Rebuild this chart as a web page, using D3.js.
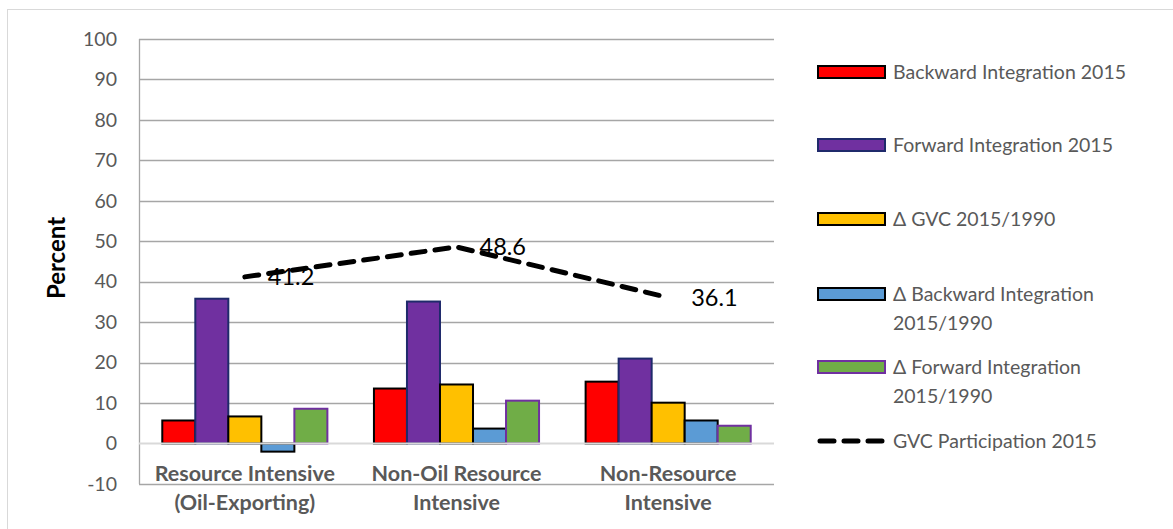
<!DOCTYPE html>
<html>
<head>
<meta charset="utf-8">
<script src="https://cdn.jsdelivr.net/npm/d3@7"></script>
<style>
  html, body { margin: 0; padding: 0; background: #fff; }
  svg { display: block; font-family: Lato, "Open Sans", sans-serif; }
</style>
</head>
<body>
<svg id="chart" width="1173" height="529"></svg>
<script>
// Regional groups
const categories = [
  "Resource Intensive (Oil-Exporting)",
  "Non-Oil Resource Intensive",
  "Non-Resource Intensive"
];

// Bar series (percent)
const barSeries = [
  "Backward Integration 2015",
  "Forward Integration 2015",
  "Δ GVC 2015/1990",
  "Δ Backward Integration 2015/1990",
  "Δ Forward Integration 2015/1990"
];
const backward2015 = [5.7, 13.6, 15.3];
const forward2015 = [35.8, 35.1, 21.0];
const deltaGVC = [6.7, 14.6, 10.1];
const deltaBackward = [-2.0, 3.7, 5.7];
const deltaForward = [8.6, 10.6, 4.4];

// Line series (percent)
const lineSeries = "GVC Participation 2015";
const gvcParticipation = [41.2, 48.6, 36.1];

const yTicks = [-10, 0, 10, 20, 30, 40, 50, 60, 70, 80, 90, 100];
const yTitle = "Percent";

const barValues = [backward2015, forward2015, deltaGVC, deltaBackward, deltaForward];
const fills = ["#ff0000", "#7030a0", "#ffc000", "#5b9bd5", "#70ad47"];
const strokes = ["#000000", "#1f2a6b", "#000000", "#000000", "#7030a0"];

const svg = d3.select("#chart");
const textGray = "#595959";

// outer chart frame
svg.append("rect")
  .attr("x", 7.5).attr("y", 9.5)
  .attr("width", 1200).attr("height", 560)
  .attr("fill", "#fff").attr("stroke", "#d9d9d9").attr("stroke-width", 1);

const plot = { left: 139, right: 774, top: 39, bottom: 484 };

const x = d3.scaleBand().domain(categories).range([plot.left, plot.right]).paddingInner(0).paddingOuter(0);
const y = d3.scaleLinear().domain([-10, 100]).range([plot.bottom, plot.top]);

const barW = x.bandwidth() * 0.156;
const groupW = barW * barSeries.length;
const xs = d3.scaleBand().domain(d3.range(barSeries.length)).range([0, groupW]).padding(0);

// gridlines
svg.append("g")
  .selectAll("line")
  .data(yTicks.filter(t => t !== 0 && t !== -10))
  .join("line")
  .attr("x1", plot.left).attr("x2", plot.right)
  .attr("y1", d => Math.round(y(d)) + 0.5).attr("y2", d => Math.round(y(d)) + 0.5)
  .attr("stroke", "#a6a6a6").attr("stroke-width", 1.3);

// y axis
const yAxis = d3.axisLeft(y).tickValues(yTicks).tickSize(0).tickPadding(22)
  .tickFormat(d => String(d));
const gy = svg.append("g").attr("transform", `translate(${plot.left},0)`).call(yAxis);
gy.select(".domain").remove();
gy.selectAll("text")
  .attr("fill", textGray)
  .style("font-size", "19.5px")
  .style("font-family", "Lato, sans-serif");

// plot frame: left and bottom edges
svg.append("line")
  .attr("x1", plot.left + 0.5).attr("x2", plot.left + 0.5)
  .attr("y1", plot.top).attr("y2", plot.bottom)
  .attr("stroke", "#a6a6a6").attr("stroke-width", 1.3);
svg.append("line")
  .attr("x1", plot.left).attr("x2", plot.right)
  .attr("y1", plot.bottom + 0.5).attr("y2", plot.bottom + 0.5)
  .attr("stroke", "#a6a6a6").attr("stroke-width", 1.3);

// bars
const groups = svg.append("g").selectAll("g")
  .data(categories)
  .join("g")
  .attr("transform", d => `translate(${x(d) + (x.bandwidth() - groupW) / 2},0)`);

groups.selectAll("rect")
  .data((c, ci) => barValues.map((vals, si) => ({ si, v: vals[ci] })))
  .join("rect")
  .attr("x", d => xs(d.si))
  .attr("width", xs.bandwidth())
  .attr("y", d => y(Math.max(0, d.v)))
  .attr("height", d => Math.abs(y(d.v) - y(0)))
  .attr("fill", d => fills[d.si])
  .attr("stroke", d => strokes[d.si])
  .attr("stroke-width", 2);

// zero line
svg.append("line")
  .attr("x1", plot.left).attr("x2", plot.right)
  .attr("y1", y(0)).attr("y2", y(0))
  .attr("stroke", "#d9d9d9").attr("stroke-width", 2);

// participation line
const cx = c => x(c) + x.bandwidth() / 2;
const line = d3.line().x((d, i) => cx(categories[i])).y(d => y(d));
svg.append("path")
  .datum(gvcParticipation)
  .attr("d", line)
  .attr("fill", "none")
  .attr("stroke", "#000")
  .attr("stroke-width", 5)
  .attr("stroke-dasharray", "14 10")
  .attr("stroke-linecap", "round");

svg.append("g").selectAll("text")
  .data(gvcParticipation)
  .join("text")
  .attr("x", (d, i) => cx(categories[i]) + 23)
  .attr("y", d => y(d))
  .attr("dy", "0.36em")
  .attr("fill", "#000")
  .style("font-size", "23.5px")
  .text(d => d.toFixed(1));

// wrap a text element into tspans no wider than `width`
function wrap(textSel, width, lineHeight) {
  textSel.each(function () {
    const t = d3.select(this);
    const words = t.text().split(/\s+/);
    const xPos = t.attr("x");
    t.text(null);
    let lineWords = [];
    let tspan = t.append("tspan").attr("x", xPos);
    for (const w of words) {
      lineWords.push(w);
      tspan.text(lineWords.join(" "));
      if (tspan.node().getComputedTextLength() > width && lineWords.length > 1) {
        lineWords.pop();
        tspan.text(lineWords.join(" "));
        lineWords = [w];
        tspan = t.append("tspan").attr("x", xPos).attr("dy", lineHeight).text(w);
      }
    }
  });
}

// category labels
svg.append("g").selectAll("text")
  .data(categories)
  .join("text")
  .attr("x", d => cx(d))
  .attr("y", 481)
  .attr("text-anchor", "middle")
  .attr("fill", textGray)
  .style("font-size", "21.5px")
  .style("font-weight", "bold")
  .text(d => d)
  .call(wrap, x.bandwidth() - 8, 29);

// y axis title
svg.append("text")
  .attr("transform", "translate(65,258) rotate(-90)")
  .attr("text-anchor", "middle")
  .attr("fill", "#000")
  .style("font-size", "24px")
  .style("font-weight", "bold")
  .text(yTitle);

// legend
const legendItems = barSeries.map((name, i) => ({ name, type: "bar", i }))
  .concat([{ name: lineSeries, type: "line" }]);
const legendY = [72, 145, 219, 294, 367, 441];
const lg = svg.append("g").selectAll("g")
  .data(legendItems)
  .join("g")
  .attr("transform", (d, i) => `translate(818,${legendY[i]})`);

lg.filter(d => d.type === "bar").append("rect")
  .attr("x", 0).attr("y", -6)
  .attr("width", 67).attr("height", 12)
  .attr("fill", d => fills[d.i])
  .attr("stroke", d => strokes[d.i])
  .attr("stroke-width", 2);

lg.filter(d => d.type === "line").append("line")
  .attr("x1", 2).attr("x2", 64)
  .attr("y1", 0).attr("y2", 0)
  .attr("stroke", "#000")
  .attr("stroke-width", 5)
  .attr("stroke-dasharray", "14 10")
  .attr("stroke-linecap", "round");

lg.append("text")
  .attr("x", 75)
  .attr("y", 0)
  .attr("dy", "0.36em")
  .attr("fill", textGray)
  .style("font-size", "19.5px")
  .text(d => d.name)
  .call(wrap, 245, 29);
</script>
</body>
</html>
